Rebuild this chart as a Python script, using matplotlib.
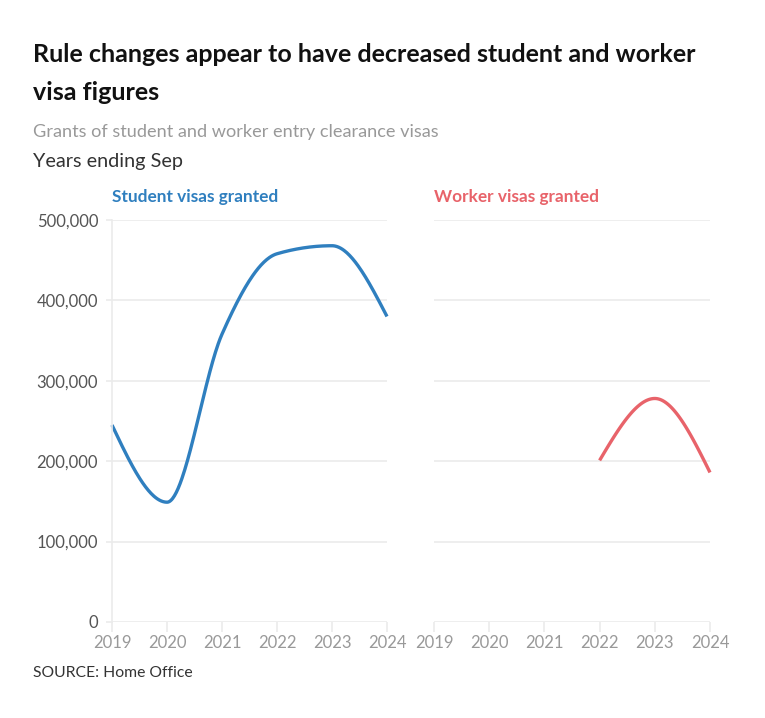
import numpy as np
import matplotlib
matplotlib.use("Agg")
import matplotlib.pyplot as plt
from matplotlib.ticker import FuncFormatter

plt.rcParams['font.family'] = ['Lato', 'DejaVu Sans']

years = [2019, 2020, 2021, 2022, 2023, 2024]
student_visas = [245000, 149000, 358000, 458000, 468000, 380000]
worker_years = [2022, 2023, 2024]
worker_visas = [201000, 278000, 186000]

blue = '#2f7fbf'
red = '#e8636a'
grid_col = '#ebebeb'


def monotone(x, y, n=60):
    # monotone cubic (Steffen), like d3 curveMonotoneX
    x = np.asarray(x, float)
    y = np.asarray(y, float)
    h = np.diff(x)
    s = np.diff(y) / h
    m = np.zeros(len(x))
    for i in range(1, len(x) - 1):
        p = (s[i-1]*h[i] + s[i]*h[i-1]) / (h[i-1] + h[i])
        m[i] = (np.sign(s[i-1]) + np.sign(s[i])) * min(abs(s[i-1]), abs(s[i]), 0.5*abs(p))
    m[0] = (3*s[0] - m[1]) / 2 if len(x) > 2 else s[0]
    m[-1] = (3*s[-1] - m[-2]) / 2 if len(x) > 2 else s[-1]
    xs, ys = [], []
    for i in range(len(x) - 1):
        t = np.linspace(0, 1, n)
        h00 = 2*t**3 - 3*t**2 + 1
        h10 = t**3 - 2*t**2 + t
        h01 = -2*t**3 + 3*t**2
        h11 = t**3 - t**2
        xs.extend(x[i] + t*h[i])
        ys.extend(h00*y[i] + h10*h[i]*m[i] + h01*y[i+1] + h11*h[i]*m[i+1])
    return np.array(xs), np.array(ys)


fig = plt.figure(figsize=(7.65, 7.18), dpi=100)
W, H = 765, 718

ax1 = fig.add_axes([112/W, 1-622/H, 275/W, 402/H])
ax2 = fig.add_axes([434/W, 1-622/H, 276/W, 402/H])

for ax in (ax1, ax2):
    ax.set_xlim(2019, 2024)
    ax.set_ylim(0, 500000)
    ax.set_xticks(years)
    ax.set_yticks([0, 100000, 200000, 300000, 400000, 500000])
    ax.yaxis.set_major_formatter(FuncFormatter(lambda v, p: f'{int(v):,}'))
    ax.grid(axis='y', color=grid_col, lw=1.2)
    ax.set_axisbelow(True)
    for sp in ax.spines.values():
        sp.set_visible(False)
    ax.tick_params(axis='x', length=7, width=1.2, color=grid_col, labelsize=12,
                   labelcolor='#999999', pad=2)
    ax.tick_params(axis='y', length=4, width=1.2, color=grid_col, labelsize=12,
                   labelcolor='#555555', pad=6)

ax1.spines['left'].set_visible(True)
ax1.spines['left'].set_color(grid_col)
ax1.spines['left'].set_linewidth(1.2)
ax2.tick_params(axis='y', length=0, labelleft=False)

sx, sy = monotone(years, student_visas)
ax1.plot(sx, sy, color=blue, lw=2.4, solid_capstyle='butt', clip_on=False)
wx, wy = monotone(worker_years, worker_visas)
ax2.plot(wx, wy, color=red, lw=2.4, solid_capstyle='butt', clip_on=False)

fig.text(33/W, 1-55/H, 'Rule changes appear to have decreased student and worker',
         fontsize=18, fontweight='bold', color='#111111', va='center')
fig.text(33/W, 1-93/H, 'visa figures', fontsize=18, fontweight='bold',
         color='#111111', va='center')
fig.text(33/W, 1-132/H, 'Grants of student and worker entry clearance visas',
         fontsize=13.1, color='#999999', va='center')
fig.text(33/W, 1-162/H, 'Years ending Sep', fontsize=14.3, color='#333333', va='center')
fig.text(112/W, 1-197/H, 'Student visas granted', fontsize=12.4, fontweight='bold',
         color=blue, va='center')
fig.text(434/W, 1-197/H, 'Worker visas granted', fontsize=12.4, fontweight='bold',
         color=red, va='center')
fig.text(33/W, 1-673/H, 'SOURCE: Home Office', fontsize=11.3, color='#333333', va='center')

fig.savefig('out.png', dpi=100, facecolor='white')
